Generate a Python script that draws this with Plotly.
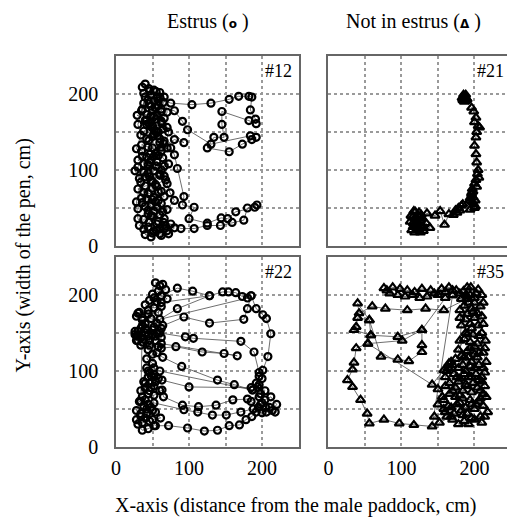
import plotly.graph_objects as go
from plotly.subplots import make_subplots

# ---- data: trajectories (x = distance from male paddock, y = width of pen), cm ----
path12 = [
    (36,209),(40,213),(45,207),(38,201),(48,199),(55,203),(60,196),(52,191),(45,187),(58,185),(65,189),(62,177),
    (50,179),(42,173),(29,172),(40,165),(55,167),(63,161),(48,157),(38,151),(52,147),(60,141),(45,139),(35,133),
    (50,129),(62,125),(70,129),(58,119),(42,117),(30,113),(44,107),(56,111),(66,105),(52,99),(38,97),(26,99),
    (32,89),(46,91),(60,93),(68,87),(54,81),(40,79),(30,75),(44,69),(58,71),(66,65),(50,61),(36,57),(30,49),
    (44,47),(56,51),(64,45),(50,39),(38,35),(32,27),(44,25),(56,29),(66,23),(52,19),(40,15),(48,12),(60,16),
    (70,20),(75,29),(89,23),(107,23),(125,27),(143,27),(159,31),(175,34),(180,50),(193,54),(190,51),(164,45),
    (153,36),(144,37),(125,30),(100,36),(107,51),(91,54),(93,65),(84,102),(80,120),(75,129),(66,138),(58,150),
    (50,158),(42,166),(36,180),(44,192),(56,196),(75,188),(104,186),(130,188),(155,193),(168,197),(182,197),
    (186,196),(184,179),(191,167),(192,161),(182,165),(145,177),(145,160),(148,143),(134,143),(125,129),
    (155,124),(173,134),(186,140),(192,143),(184,145),(130,134),(98,153),(91,164),(80,178),(62,180),(52,170),
    (42,160),(70,156),(93,136),(80,140),(62,130),(47,121),(55,105),(40,91),(50,76),(35,63),(48,53),(60,41),
    (45,31),(55,21),(65,31),(58,60),(50,85),(62,100),(48,113),(35,125),(42,141),(55,151),(48,171),(58,191),
    (52,205),(40,196),(35,178),(45,161),(57,145),(65,135),(54,122),(46,110),(60,95),(70,82),(62,72),(52,64),
    (40,52),(48,40),(58,32),(68,26),(62,14),(50,17),(38,22),(30,36),(28,58),(34,84),(30,104),(36,118),(28,128),
    (34,146),(30,160),(38,188),(46,204),(54,182),(66,168),(72,150),(64,116),(72,108),(66,92),(74,70),(80,60),
    (70,48),(62,56),(52,46),(42,62),(56,78),(44,96),(52,118),(60,136),(50,144),(64,154),(56,172),(48,184),
    (60,202),(66,196),(70,176),(62,164),(52,152),(44,130),(38,108),(48,86),(38,70),(54,58),(44,42),(60,24),
    (72,16),(80,24),(66,36),
]

path21 = [
    (184,192),(187,197),(185,199),(189,194),(186,190),(183,195),(188,199),(190,193),(185,196),(188,191),
    (196,182),(199,177),(202,169),(200,163),(205,158),(207,156),(203,150),(202,143),(200,132),(202,121),
    (203,110),(205,100),(204,95),(202,87),(200,82),(206,90),(203,78),(198,72),(196,68),(194,63),(197,58),
    (200,50),(199,55),(194,60),(196,70),(198,64),(201,52),(194,48),(201,60),(197,75),(184,55),(180,47),
    (176,44),(171,41),(178,50),(182,53),(174,47),(165,42),(159,28),(153,46),(146,40),(135,43),(125,38),
    (117,46),(112,32),(115,38),(118,28),(121,21),(128,26),(134,30),(139,24),(130,20),(124,22),(114,21),
    (116,30),(120,35),(126,33),(113,40),(119,45),(127,41),(122,24),(118,18),(126,18),(130,24),(122,30),
    (116,25),(128,36),(124,44),(118,36),
]

path22 = [
    (60,212),(54,216),(64,214),(68,207),(58,205),(50,201),(62,199),(70,195),(56,191),(46,193),(40,187),
    (52,183),(62,185),(58,177),(44,175),(32,177),(28,172),(36,167),(48,169),(56,163),(62,199),(84,209),
    (105,205),(128,199),(146,204),(154,204),(164,203),(173,198),(185,199),(192,182),(201,174),(206,169),
    (212,149),(208,119),(201,101),(196,93),(194,79),(187,75),(162,82),(139,88),(90,106),(64,118),(56,124),
    (44,128),(34,134),(28,140),(26,148),(34,144),(44,146),(54,140),(62,144),(58,132),(46,134),(36,138),
    (30,152),(40,156),(50,154),(62,156),(60,150),(95,145),(106,143),(171,139),(189,125),(196,98),(200,90),
    (192,84),(185,78),(100,79),(63,88),(52,96),(44,92),(38,86),(46,84),(52,80),(40,78),(34,74),(44,70),
    (52,68),(60,74),(63,75),(65,66),(91,55),(113,53),(137,55),(160,62),(180,63),(196,66),(204,62),(212,66),
    (220,56),(214,48),(205,52),(198,56),(200,45),(192,46),(186,40),(178,36),(169,29),(155,28),(139,22),
    (121,21),(98,25),(72,28),(54,28),(50,36),(61,38),(54,46),(42,44),(34,40),(28,36),(36,32),(46,34),
    (52,28),(44,24),(36,22),(30,30),(40,38),(48,52),(38,54),(32,60),(40,62),(52,58),(93,49),(112,46),
    (132,42),(151,42),(171,46),(188,50),(200,58),(210,52),(218,46),(206,46),(195,52),(185,60),(198,70),
    (204,74),(196,82),(187,75),(60,100),(52,104),(44,100),(48,94),(58,90),(50,110),(42,116),(50,122),
    (62,130),(82,132),(118,125),(148,123),(166,120),(62,136),(54,146),(40,150),(30,146),(64,160),(93,171),
    (128,163),(175,168),(180,182),(185,199),(180,196),(60,168),(84,182),(128,199),(62,190),(52,196),
    (44,180),(36,170),(30,176),(40,162),(52,158),(56,150),(30,140),(26,152),(34,156),(28,146),(38,142),
    (46,140),(50,148),(42,154),(36,160),(34,60),(28,48),(34,44),(42,50),(50,48),(44,56),(36,66),(46,74),
    (40,84),(48,78),(54,86),(46,98),(52,92),(42,104),
]

path35 = [
    (185,205),(195,210),(205,207),(210,200),(200,196),(190,198),(180,202),(170,206),(160,204),(150,200),
    (140,206),(128,208),(118,204),(108,206),(98,208),(88,210),(80,206),(76,209),(84,202),(95,200),(105,198),
    (115,200),(125,196),(135,198),(145,202),(155,208),(165,210),(175,206),(188,200),(200,190),(208,185),
    (196,182),(186,186),(190,175),(200,170),(210,172),(205,160),(194,162),(188,150),(198,148),(210,150),
    (215,140),(204,136),(194,138),(190,126),(200,122),(212,124),(216,112),(206,108),(196,112),(188,100),
    (192,92),(202,96),(214,98),(210,86),(198,84),(188,82),(180,90),(172,96),(164,104),(168,112),(174,116),
    (170,108),(162,100),(160,92),(166,84),(174,78),(184,74),(196,72),(208,74),(216,66),(206,60),(194,62),
    (184,64),(174,66),(166,70),(158,62),(164,54),(176,56),(188,52),(200,50),(212,54),(218,46),(208,40),
    (196,38),(184,42),(172,44),(162,40),(158,50),(170,36),(186,34),(200,36),(210,32),(190,44),(180,58),
    (170,74),(178,86),(186,96),(194,106),(186,118),(194,130),(186,142),(196,156),(188,168),(198,178),
    (192,190),(182,195),(170,200),(142,27),(117,29),(97,31),(76,36),(56,31),(53,44),(44,62),(33,79),(26,88),
    (33,102),(35,111),(38,130),(54,136),(58,147),(56,167),(40,189),(42,176),(60,185),(78,182),(108,180),
    (133,182),(158,180),(190,195),(160,196),(128,154),(95,145),(58,147),(35,154),(38,158),(40,170),(56,167),
    (72,119),(95,115),(110,113),(128,125),(128,134),(128,154),(101,140),(54,136),(142,82),(158,101),
    (165,110),(176,92),(160,80),(150,76),(156,66),(150,56),(160,46),(145,40),(152,32),(168,40),(182,48),
    (196,56),(208,64),(214,80),(206,88),(212,104),(204,118),(214,130),(206,146),(212,162),(204,176),
    (212,190),(202,202),(190,210),(180,180),(182,160),(180,140),(182,120),(178,104),(192,118),(200,132),
    (206,124),(200,104),(210,92),(204,78),(212,70),(202,56),(214,40),(192,30),(178,30),(168,52),(180,68),
    (190,80),(196,92),(184,108),(178,128),(190,148),(180,170),(194,200),
]

panels = [
    (path12, 1, 1, "circle-open", 7, "#12"),
    (path21, 1, 2, "triangle-up-open", 8, "#21"),
    (path22, 2, 1, "circle-open", 7, "#22"),
    (path35, 2, 2, "triangle-up-open", 8, "#35"),
]

tick_vals = [0, 50, 100, 150, 200]
tick_text = ["0", "", "100", "", "200"]

FONT = "Liberation Serif, Times New Roman, serif"

fig = make_subplots(rows=2, cols=2, horizontal_spacing=0.0756, vertical_spacing=0.028)

for path, r, c, sym, sz, lab in panels:
    xs = [p[0] for p in path]
    ys = [p[1] for p in path]
    fig.add_trace(go.Scatter(
        x=xs, y=ys, mode="lines+markers",
        line=dict(color="#4a4a4a", width=0.8),
        marker=dict(symbol=sym, size=sz, color="black", line=dict(width=2.2, color="black")),
        showlegend=False,
    ), row=r, col=c)

for r in (1, 2):
    for c in (1, 2):
        fig.update_xaxes(
            range=[0, 250], tickvals=tick_vals, ticktext=tick_text,
            showticklabels=(r == 2), ticks="outside", ticklen=2, tickcolor="rgba(0,0,0,0)",
            showgrid=True, gridcolor="#9a9a9a", griddash="dot", gridwidth=1.5,
            showline=True, mirror=True, linecolor="#666666", linewidth=1.5,
            zeroline=False, tickfont=dict(family=FONT, size=20, color="black"),
            row=r, col=c)
        fig.update_yaxes(
            range=[0, 250], tickvals=tick_vals, ticktext=tick_text,
            showticklabels=(c == 1), ticks="outside", ticklen=12, tickcolor="rgba(0,0,0,0)",
            showgrid=True, gridcolor="#9a9a9a", griddash="dot", gridwidth=1.5,
            showline=True, mirror=True, linecolor="#666666", linewidth=1.5,
            zeroline=False, tickfont=dict(family=FONT, size=20, color="black"),
            row=r, col=c)

# panel labels
axis_names = [("x", "y"), ("x2", "y2"), ("x3", "y3"), ("x4", "y4")]
for (path, r, c, sym, sz, lab), (xa, ya) in zip(panels, axis_names):
    fig.add_annotation(text=lab, xref=f"{xa} domain", yref=f"{ya} domain",
                       x=0.975, y=0.985, xanchor="right", yanchor="top", showarrow=False,
                       font=dict(family=FONT, size=18, color="black"))

fig.add_annotation(
    text="Estrus (<span style='font-family:DejaVu Sans;font-size:12px'><b>o</b></span> )",
    xref="paper", yref="paper", x=0.232, y=1.088, xanchor="center", yanchor="middle",
    showarrow=False, font=dict(family=FONT, size=20, color="black"))
fig.add_annotation(
    text="Not in estrus (<span style='font-family:DejaVu Sans;font-size:12px'><b>Δ</b></span> )",
    xref="paper", yref="paper", x=0.753, y=1.088, xanchor="center", yanchor="middle",
    showarrow=False, font=dict(family=FONT, size=20, color="black"))
fig.add_annotation(
    text="X-axis (distance from the male paddock, cm)",
    xref="paper", yref="paper", x=0.455, y=-0.15, xanchor="center", yanchor="middle",
    showarrow=False, font=dict(family=FONT, size=20, color="black"))
fig.add_annotation(
    text="Y-axis (width of the pen, cm)", textangle=-90,
    xref="paper", yref="paper", x=-0.235, y=0.49, xanchor="center", yanchor="middle",
    showarrow=False, font=dict(family=FONT, size=20, color="black"))

fig.update_layout(
    width=515, height=521,
    margin=dict(l=108, r=10, t=48, b=82),
    paper_bgcolor="white", plot_bgcolor="white",
    font=dict(family=FONT, color="black"),
)

fig.write_html("out.html")
